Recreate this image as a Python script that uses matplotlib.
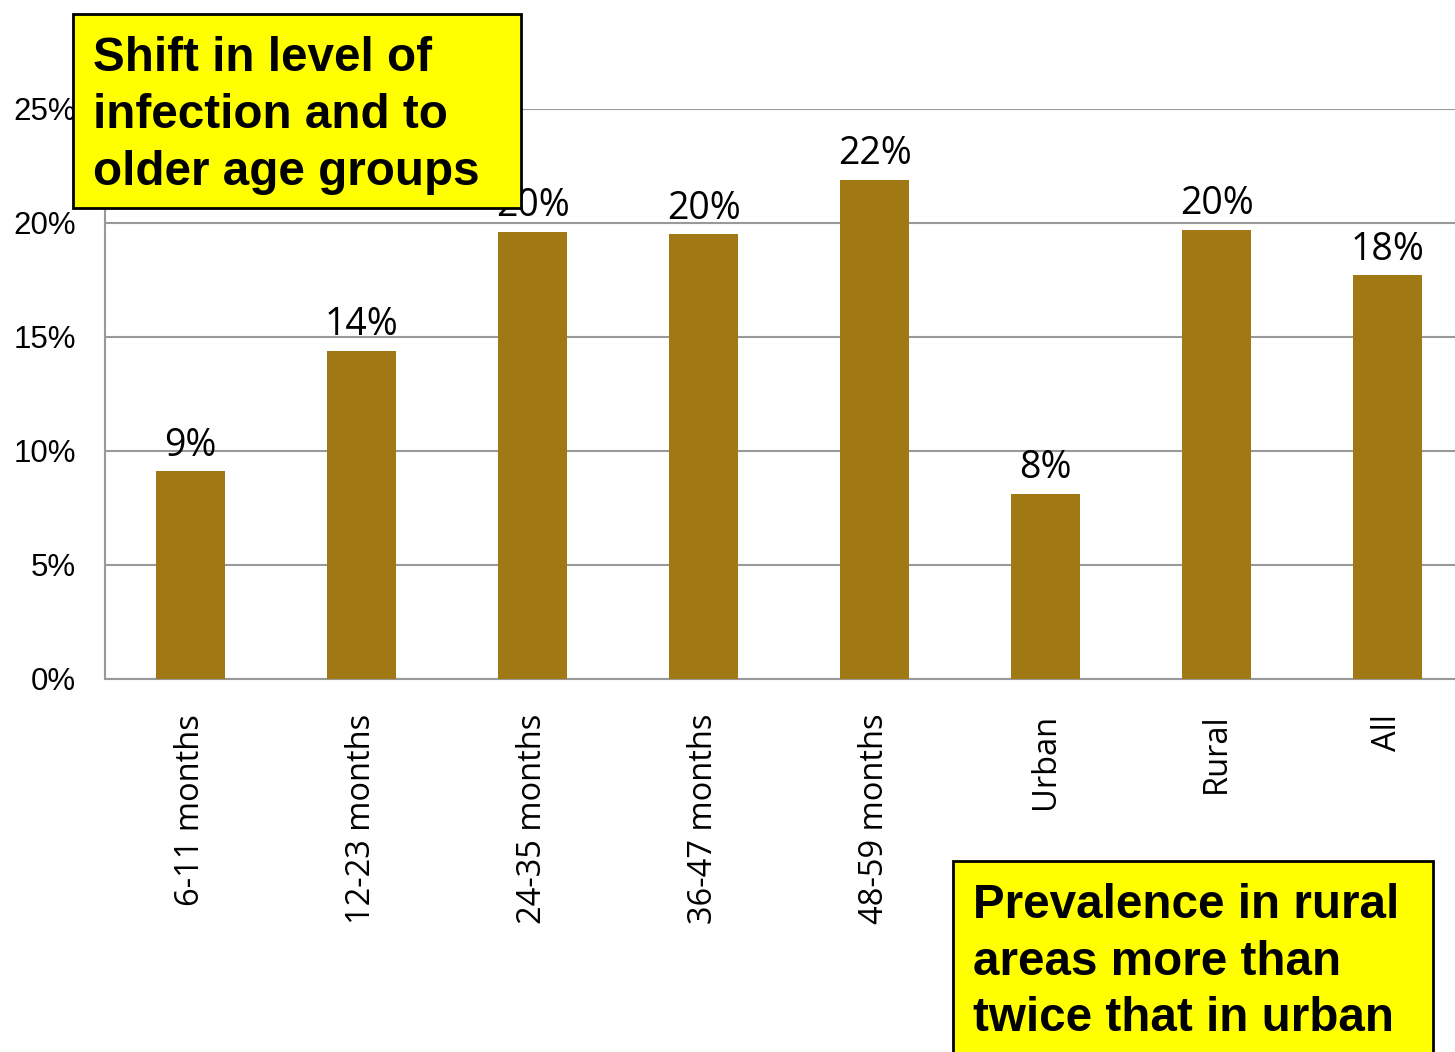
import matplotlib.pyplot as plt
from matplotlib.patches import Rectangle

categories = ['6-11 months', '12-23 months', '24-35 months', '36-47 months',
              '48-59 months', 'Urban', 'Rural', 'All']
values = [9.1, 14.4, 19.6, 19.5, 21.9, 8.1, 19.7, 17.7]
labels = ['9%', '14%', '20%', '20%', '22%', '8%', '20%', '18%']
yticks = [0, 5, 10, 15, 20, 25]

bar_color = '#A07814'
grid_color = '#999999'

fig = plt.figure(figsize=(14.55, 10.52), dpi=100)
ax = fig.add_axes([0.0722, 0.3546, 0.9402, 0.5418])

x = range(len(categories))
ax.bar(x, values, width=0.4, color=bar_color, zorder=3)
for i, (v, lab) in enumerate(zip(values, labels)):
    ax.text(i, v + 0.3, lab, ha='center', va='bottom', fontsize=27,
            family='Open Sans', color='black', zorder=4)

ax.set_xlim(-0.5, len(categories) - 0.5)
ax.set_ylim(0, 25)
ax.set_yticks(yticks)
ax.set_yticklabels([f'{t}%' for t in yticks], fontsize=22.5, family='Liberation Sans')
ax.set_xticks(list(x))
ax.set_xticklabels(categories, rotation=90, fontsize=23.5, family='Open Sans')
ax.tick_params(axis='x', length=0, pad=25)
ax.tick_params(axis='y', length=0, pad=21)

ax.yaxis.grid(True, color=grid_color, linewidth=1.5, zorder=0)
ax.set_axisbelow(True)
for s in ['top', 'right']:
    ax.spines[s].set_visible(False)
for s in ['left', 'bottom']:
    ax.spines[s].set_color(grid_color)
    ax.spines[s].set_linewidth(1.5)

# callout boxes
fig.add_artist(Rectangle((0.0502, 0.8023), 0.3079, 0.1844, transform=fig.transFigure,
                         facecolor='#FFFF00', edgecolor='black', linewidth=2, zorder=10))
fig.text(0.0639, 0.966, 'Shift in level of\ninfection and to\nolder age groups',
         ha='left', va='top', fontsize=34.3, fontweight='bold', family='Liberation Sans',
         linespacing=1.34, zorder=11)

fig.add_artist(Rectangle((0.655, -0.05), 0.3299, 0.2316, transform=fig.transFigure,
                         facecolor='#FFFF00', edgecolor='black', linewidth=2, zorder=10))
fig.text(0.6687, 0.161, 'Prevalence in rural\nareas more than\ntwice that in urban',
         ha='left', va='top', fontsize=34.3, fontweight='bold', family='Liberation Sans',
         linespacing=1.34, zorder=11)

fig.savefig('out.png', dpi=100)
